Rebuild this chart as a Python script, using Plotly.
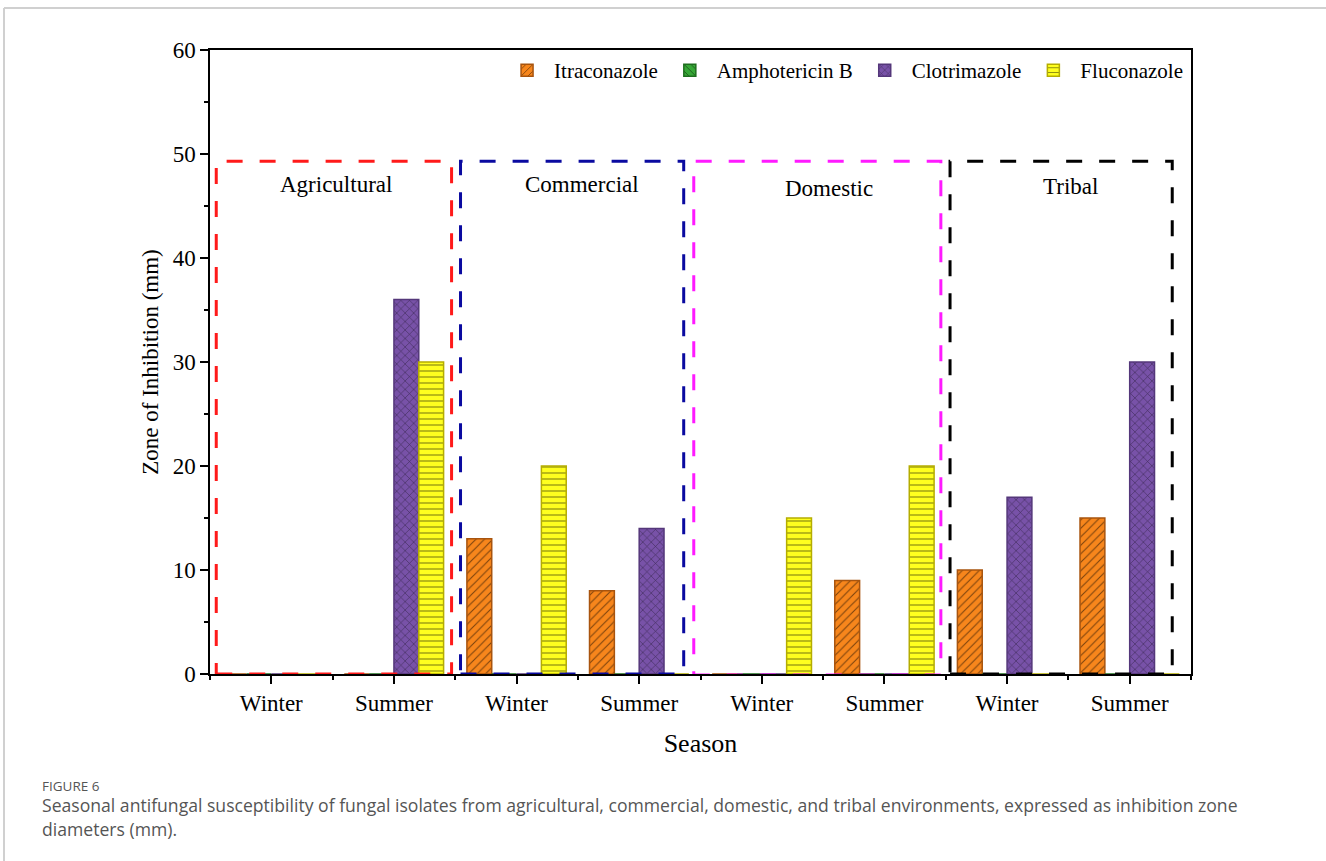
import plotly.graph_objects as go

# Seasons within each environment (x positions 0..7)
seasons = ["Winter", "Summer", "Winter", "Summer", "Winter", "Summer", "Winter", "Summer"]
environments = ["Agricultural", "Commercial", "Domestic", "Tribal"]

# Inhibition zone diameters (mm) per season/environment
itraconazole = [0, 0, 13, 8, 0, 9, 10, 15]
amphotericin_b = [0, 0, 0, 0, 0, 0, 0, 0]
clotrimazole = [0, 36, 0, 14, 0, 0, 17, 30]
fluconazole = [0, 30, 20, 0, 15, 20, 0, 0]

x_pos = list(range(len(seasons)))
SERIF = "Liberation Serif, Times New Roman, serif"

series = [
    ("Itraconazole", itraconazole, "#F7861C", "#A8540E", "/"),
    ("Amphotericin B", amphotericin_b, "#36A836", "#1E6E1E", "\\"),
    ("Clotrimazole", clotrimazole, "#7852A8", "#54377A", "x"),
    ("Fluconazole", fluconazole, "#FFFF1F", "#B5AD00", "-"),
]

fig = go.Figure()
for name, vals, fill, edge, shape in series:
    fig.add_trace(go.Bar(
        x=x_pos, y=vals, name=name,
        marker=dict(
            color=fill,
            line=dict(color=edge, width=1.5),
            pattern=dict(shape=shape, fgcolor="black", size=6, solidity=0.18),
        ),
    ))

# Dashed boxes grouping the seasons of each environment
boxes = [
    (-0.449, 1.47, 0.0, "#FF1A1A"),
    (1.543, 3.363, 0.0, "#0A0AA0"),
    (3.445, 5.46, -0.1, "#FF1AFF"),
    (5.535, 7.347, 0.0, "#000000"),
]
for x0, x1, y0, col in boxes:
    fig.add_shape(type="rect", xref="x", yref="y", x0=x0, x1=x1, y0=y0, y1=49.3,
                  line=dict(color=col, width=3, dash="16px,17px"),
                  fillcolor="rgba(0,0,0,0)", layer="above")

label_pos = [(0.53, 47.1), (2.53, 47.1), (4.547, 46.7), (6.52, 46.9)]
for env, (lx, ly) in zip(environments, label_pos):
    fig.add_annotation(x=lx, y=ly, xref="x", yref="y", text=env, showarrow=False,
                       font=dict(family=SERIF, size=23, color="black"))

# Figure caption below the plot
fig.add_annotation(x=-0.173, y=-0.1795, xref="paper", yref="paper", xanchor="left",
                   yanchor="middle", text="FIGURE 6", showarrow=False,
                   font=dict(family="Open Sans", size=13.5, color="#555555"))
fig.add_annotation(x=-0.173, y=-0.210, xref="paper", yref="paper", xanchor="left",
                   yanchor="middle", showarrow=False,
                   text="Seasonal antifungal susceptibility of fungal isolates from agricultural, "
                        "commercial, domestic, and tribal environments, expressed as inhibition zone",
                   font=dict(family="Open Sans", size=17.6, color="#555555"))
fig.add_annotation(x=-0.173, y=-0.2485, xref="paper", yref="paper", xanchor="left",
                   yanchor="middle", showarrow=False, text="diameters (mm).",
                   font=dict(family="Open Sans", size=17.6, color="#555555"))

# Page frame lines
fig.add_shape(type="line", xref="paper", yref="paper", x0=-0.21, x1=1.14, y0=1.0673, y1=1.0673,
              line=dict(color="#D0D0D0", width=2))
fig.add_shape(type="line", xref="paper", yref="paper", x0=-0.21, x1=-0.21, y0=1.0673, y1=-0.31,
              line=dict(color="#D0D0D0", width=2))

fig.update_layout(
    width=1326, height=861,
    margin=dict(l=210, r=135, t=50, b=187),
    paper_bgcolor="white", plot_bgcolor="white",
    barmode="group", bargap=0.19, bargroupgap=0,
    font=dict(family=SERIF, color="black"),
    legend=dict(orientation="h", x=0.997, xanchor="right", y=1.0, yanchor="top",
                font=dict(family=SERIF, size=21), bgcolor="rgba(0,0,0,0)",
                itemwidth=44, tracegroupgap=0),
    xaxis=dict(
        range=[-0.5, 7.5], tickmode="array", tickvals=x_pos, ticktext=seasons,
        ticks="outside", ticklen=8, tickwidth=1.5, tickcolor="black",
        tickfont=dict(family=SERIF, size=23),
        minor=dict(tickmode="array", tickvals=[i - 0.5 for i in range(9)],
                   ticks="outside", ticklen=4, tickwidth=1.5, tickcolor="black"),
        showline=True, linecolor="black", linewidth=1.5, mirror=True,
        showgrid=False, zeroline=False,
        title=dict(text="Season", font=dict(family=SERIF, size=26), standoff=18),
    ),
    yaxis=dict(
        range=[0, 60], dtick=10, tick0=0,
        ticks="outside", ticklen=8, tickwidth=1.5, tickcolor="black",
        tickfont=dict(family=SERIF, size=23),
        minor=dict(dtick=5, ticks="outside", ticklen=4, tickwidth=1.5, tickcolor="black"),
        showline=True, linecolor="black", linewidth=1.5, mirror=True,
        showgrid=False, zeroline=False,
        title=dict(text="Zone of Inhibition (mm)", font=dict(family=SERIF, size=23), standoff=8),
    ),
)

fig.write_html("out.html")
